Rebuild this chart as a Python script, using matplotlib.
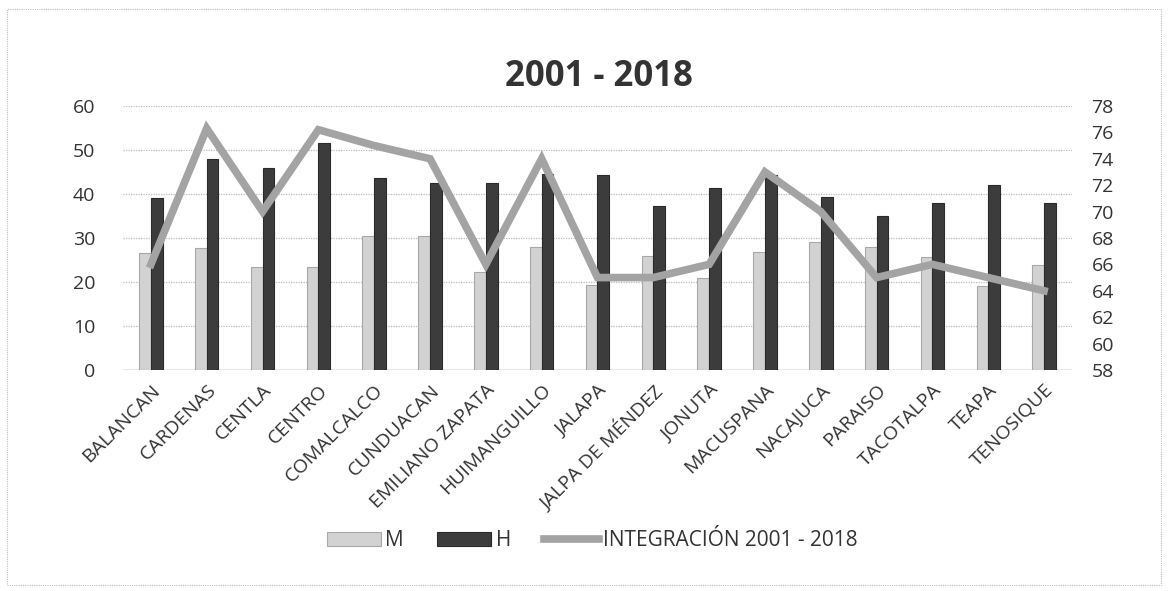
import numpy as np
import matplotlib.pyplot as plt
from matplotlib.patches import Rectangle

plt.rcParams['font.family'] = ['Open Sans', 'DejaVu Sans']

municipios = ['BALANCAN', 'CARDENAS', 'CENTLA', 'CENTRO', 'COMALCALCO', 'CUNDUACAN',
              'EMILIANO ZAPATA', 'HUIMANGUILLO', 'JALAPA', 'JALPA DE MÉNDEZ', 'JONUTA',
              'MACUSPANA', 'NACAJUCA', 'PARAISO', 'TACOTALPA', 'TEAPA', 'TENOSIQUE']
# M (mujeres) and H (hombres), left axis
m_vals = [26.5, 27.7, 23.4, 23.4, 30.5, 30.5, 22.3, 28, 19.3, 26, 21, 26.8, 29, 28, 25.7, 19, 23.9]
h_vals = [39, 48, 46, 51.6, 43.6, 42.5, 42.5, 44.5, 44.3, 37.3, 41.3, 44.3, 39.3, 35, 38, 42, 38]
# integration index, right axis
integracion = [66, 76.3, 70, 76.2, 75, 74, 66, 74, 65, 65, 66, 73, 70, 65, 66, 65, 64]

left_ticks = [0, 10, 20, 30, 40, 50, 60]
right_ticks = [58, 60, 62, 64, 66, 68, 70, 72, 74, 76, 78]

fig = plt.figure(figsize=(11.68, 5.91), dpi=100)
ax = fig.add_axes([0.1053, 0.374, 0.8125, 0.4467])

x = np.arange(len(municipios))
w = 0.21
ax.bar(x - w / 2, m_vals, w, color='#d2d2d2', edgecolor='#a8a8a8', linewidth=0.8, label='M', zorder=2)
ax.bar(x + w / 2, h_vals, w, color='#3c3c3c', edgecolor='#2a2a2a', linewidth=0.8, label='H', zorder=2)

ax.set_xlim(-0.5, len(municipios) - 0.5)
ax.set_ylim(0, 60)
ax.set_yticks(left_ticks)
ax.yaxis.grid(True, color='#bdbdbd', linestyle=(0, (1, 1)), linewidth=0.9, zorder=0)
ax.set_axisbelow(True)
for s in ax.spines.values():
    s.set_visible(False)
ax.tick_params(axis='y', length=0, labelsize=14, colors='#333333', pad=20)
ax.tick_params(axis='x', length=0, colors='#333333', pad=8)
ax.set_xticks(x)
ax.set_xticklabels(municipios, rotation=45, ha='right', rotation_mode='anchor', fontsize=14)
ax.axhline(0, color='#aaaaaa', linewidth=1, zorder=1)

ax2 = ax.twinx()
ax2.plot(x, integracion, color='#a3a3a3', linewidth=5.5, solid_joinstyle='miter',
         label='INTEGRACIÓN 2001 - 2018', zorder=3)
ax2.set_ylim(58, 78)
ax2.set_yticks(right_ticks)
for s in ax2.spines.values():
    s.set_visible(False)
ax2.tick_params(axis='y', length=0, labelsize=14, colors='#333333', pad=14)

fig.text(0.513, 0.87, '2001 - 2018', ha='center', va='center', fontsize=25,
         fontweight='bold', color='#333333')

h1, l1 = ax.get_legend_handles_labels()
h2, l2 = ax2.get_legend_handles_labels()
fig.legend(h1 + h2, l1 + l2, loc='center', bbox_to_anchor=(0.507, 0.085), ncol=3,
           frameon=False, fontsize=15, handlelength=2.6, handletextpad=0.2, columnspacing=1.6,
           labelcolor='#333333')

fig.patches.append(Rectangle((0.006, 0.01), 0.988, 0.975, transform=fig.transFigure,
                             fill=False, edgecolor='#c0c0c0', linestyle=(0, (1, 1)), linewidth=0.8))

plt.savefig('out.png')
